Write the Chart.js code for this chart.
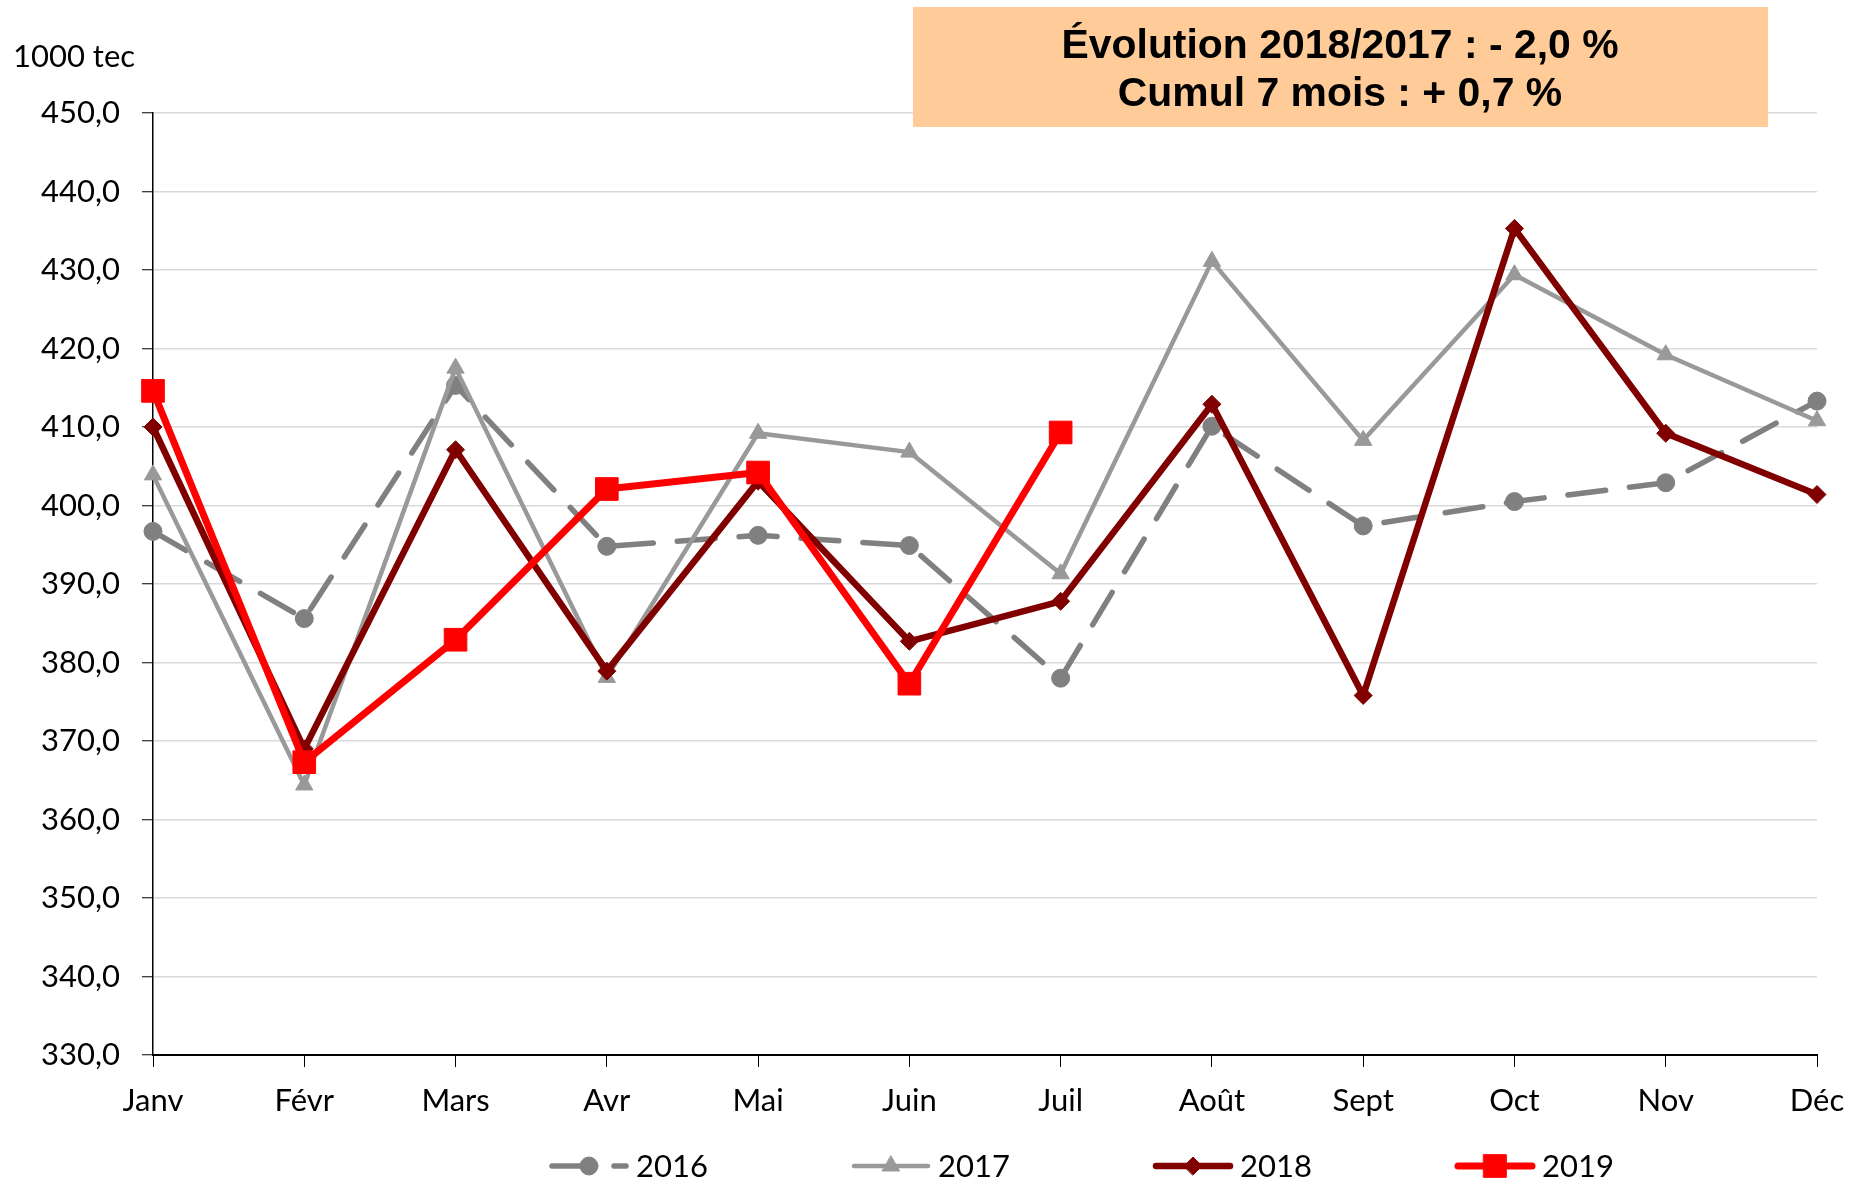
<!DOCTYPE html>
<html>
<head>
<meta charset="utf-8">
<script src="https://cdn.jsdelivr.net/npm/chart.js@4.4.1/dist/chart.umd.min.js"></script>
<style>
  html, body { margin: 0; padding: 0; background: #fff; }
</style>
</head>
<body>
<canvas id="coalChart" width="1852" height="1182"></canvas>
<script>
const months = ["Janv", "Févr", "Mars", "Avr", "Mai", "Juin", "Juil", "Août", "Sept", "Oct", "Nov", "Déc"];
const years = ["2016", "2017", "2018", "2019"];
const values2016 = [396.7, 385.6, 415.3, 394.8, 396.2, 394.9, 378.0, 410.1, 397.4, 400.5, 402.9, 413.3];
const values2017 = [403.9, 364.4, 417.5, 378.1, 409.2, 406.8, 391.3, 431.1, 408.3, 429.4, 419.2, 410.8];
const values2018 = [410.0, 369.0, 407.1, 378.9, 403.1, 382.7, 387.8, 412.9, 375.8, 435.3, 409.2, 401.4];
const values2019 = [414.6, 367.3, 382.9, 402.1, 404.2, 377.3, 409.3, null, null, null, null, null];
const yMin = 330, yMax = 450, yStep = 10;
const unitLabel = "1000 tec";
const titleLines = ["Évolution 2018/2017 : - 2,0 %", "Cumul 7 mois : + 0,7 %"];

const FONT = "Lato, 'Open Sans', sans-serif";

// Title box, unit label and legend (line sample + marker + text)
const extrasPlugin = {
  id: "extras",
  afterDraw(chart) {
    const c = chart.ctx;
    c.save();

    c.fillStyle = "#000";
    c.font = "31px " + FONT;
    c.textAlign = "left";
    c.textBaseline = "alphabetic";
    c.fillText(unitLabel, 13, 67);

    c.fillStyle = "#FFCC99";
    c.fillRect(913, 7, 855, 120);
    c.fillStyle = "#000";
    c.font = "bold 40px 'Liberation Sans Narrow', 'Liberation Sans', Arial, sans-serif";
    c.textAlign = "center";
    const sx = 557 / c.measureText(titleLines[0]).width;
    titleLines.forEach((line, i) => {
      c.save();
      c.translate(1340, 58 + i * 48);
      c.scale(sx, 1);
      c.fillText(line, 0, 0);
      c.restore();
    });

    chart.data.datasets.forEach((ds, i) => {
      const x0 = 552 + i * 302;
      const y = 1166;
      c.strokeStyle = ds.borderColor;
      c.lineWidth = ds.borderWidth;
      c.lineCap = "round";
      c.setLineDash(ds.borderDash || []);
      c.beginPath();
      c.moveTo(x0, y);
      c.lineTo(x0 + 74, y);
      c.stroke();
      c.setLineDash([]);
      c.fillStyle = ds.pointBackgroundColor;
      c.strokeStyle = ds.pointBorderColor;
      c.lineWidth = ds.pointBorderWidth;
      Chart.helpers.drawPoint(c, {
        pointStyle: ds.pointStyle,
        radius: ds.pointRadius,
        rotation: 0,
        borderWidth: ds.pointBorderWidth
      }, x0 + 37, y);
      c.fillStyle = "#000";
      c.font = "31px " + FONT;
      c.textAlign = "left";
      c.fillText(ds.label, x0 + 84, 1177);
    });
    c.restore();
  }
};

function series(label, data, color, width, style, radius, order, dash) {
  return {
    label: label,
    data: data,
    borderColor: color,
    backgroundColor: color,
    borderWidth: width,
    borderDash: dash,
    borderCapStyle: dash ? "round" : "butt",
    borderJoinStyle: "round",
    pointStyle: style,
    pointRadius: radius,
    pointHoverRadius: radius,
    pointBackgroundColor: color,
    pointBorderColor: color,
    pointBorderWidth: 1,
    tension: 0,
    spanGaps: false,
    order: order
  };
}

new Chart(document.getElementById("coalChart"), {
  type: "line",
  data: {
    labels: months,
    datasets: [
      series(years[0], values2016, "#808080", 5.5, "circle", 9, 3, [38, 24]),
      series(years[1], values2017, "#999999", 4.5, "triangle", 10, 2),
      series(years[2], values2018, "#800000", 6.5, "rectRot", 9, 1),
      series(years[3], values2019, "#FF0000", 7, "rect", 16, 0)
    ]
  },
  options: {
    responsive: false,
    animation: false,
    devicePixelRatio: 1,
    layout: { padding: { left: 0, right: 35, top: 113, bottom: 57 } },
    plugins: {
      legend: { display: false },
      tooltip: { enabled: false },
      title: { display: false }
    },
    scales: {
      x: {
        type: "category",
        offset: false,
        afterFit(scale) {
          scale.height = 70;
          scale.paddingLeft = 0;
          scale.paddingRight = 0;
        },
        grid: {
          drawOnChartArea: false,
          drawTicks: true,
          tickLength: 12,
          color: "#000",
          tickColor: "#000",
          tickWidth: 1
        },
        border: { display: true, color: "#000", width: 2 },
        ticks: {
          color: "#000",
          font: { family: FONT, size: 31 },
          padding: 15,
          maxRotation: 0,
          autoSkip: false
        }
      },
      y: {
        min: yMin,
        max: yMax,
        afterFit(scale) { scale.width = 153; },
        grid: {
          color: "#D9D9D9",
          lineWidth: 1.5,
          drawTicks: true,
          tickLength: 11,
          tickColor: "#000",
          tickWidth: 1
        },
        border: { display: true, color: "#000", width: 1.5 },
        ticks: {
          stepSize: yStep,
          color: "#000",
          font: { family: FONT, size: 31 },
          padding: 22,
          callback: v => v.toFixed(1).replace(".", ",")
        }
      }
    }
  },
  plugins: [extrasPlugin]
});
</script>
</body>
</html>
